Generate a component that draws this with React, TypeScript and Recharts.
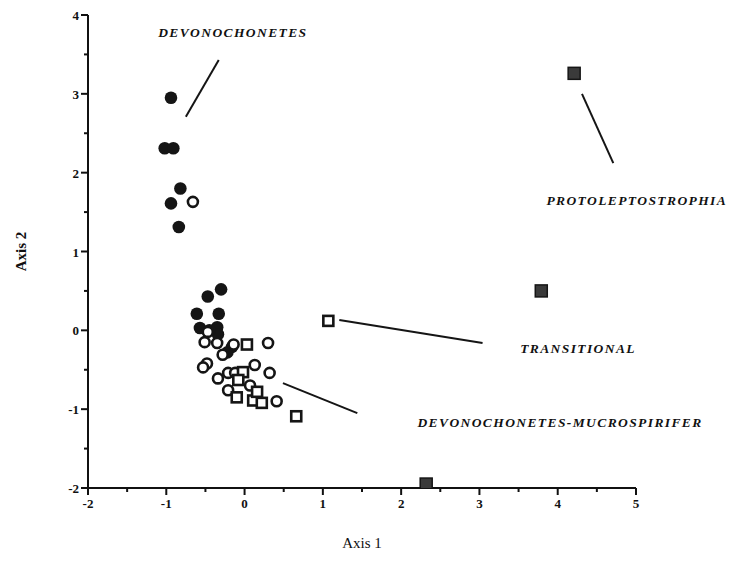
import { ScatterChart, Scatter, XAxis, YAxis, ReferenceLine, ReferenceDot } from 'recharts';

// sample scores
const devonochonetes = [
  { x: -0.94, y: 2.95 }, { x: -1.02, y: 2.31 }, { x: -0.91, y: 2.31 },
  { x: -0.82, y: 1.8 }, { x: -0.94, y: 1.61 }, { x: -0.84, y: 1.31 },
  { x: -0.3, y: 0.52 }, { x: -0.47, y: 0.43 }, { x: -0.61, y: 0.21 },
  { x: -0.33, y: 0.21 }, { x: -0.57, y: 0.03 }, { x: -0.35, y: 0.04 },
  { x: -0.34, y: -0.05 }, { x: -0.16, y: -0.21 }, { x: -0.22, y: -0.28 },
  { x: -0.45, y: 0.0 },
];

const mucrospiriferCircles = [
  { x: -0.66, y: 1.63 }, { x: -0.47, y: -0.02 }, { x: -0.51, y: -0.15 },
  { x: -0.35, y: -0.16 }, { x: -0.28, y: -0.31 }, { x: -0.14, y: -0.18 },
  { x: 0.3, y: -0.16 }, { x: -0.48, y: -0.42 }, { x: -0.53, y: -0.47 },
  { x: -0.34, y: -0.61 }, { x: -0.21, y: -0.54 }, { x: -0.12, y: -0.54 },
  { x: 0.13, y: -0.44 }, { x: 0.32, y: -0.54 }, { x: -0.21, y: -0.76 },
  { x: 0.07, y: -0.7 }, { x: 0.41, y: -0.9 },
];

const transitionalSquares = [
  { x: 0.03, y: -0.18 }, { x: -0.02, y: -0.53 }, { x: -0.08, y: -0.63 },
  { x: -0.1, y: -0.85 }, { x: 0.11, y: -0.89 }, { x: 0.22, y: -0.92 },
  { x: 0.16, y: -0.78 }, { x: 0.66, y: -1.09 }, { x: 1.07, y: 0.12 },
];

const protoleptostrophia = [
  { x: 4.21, y: 3.26 }, { x: 3.79, y: 0.5 }, { x: 2.32, y: -1.95 },
];

const xTicks = [-2, -1.5, -1, -0.5, 0, 0.5, 1, 1.5, 2, 2.5, 3, 3.5, 4, 4.5, 5];
const yTicks = [-2, -1.5, -1, -0.5, 0, 0.5, 1, 1.5, 2, 2.5, 3, 3.5, 4];

// annotation pointer lines and their labels (data units)
const pointers = [
  { x1: -0.33, y1: 3.43, x2: -0.75, y2: 2.71 },
  { x1: 4.31, y1: 3.0, x2: 4.71, y2: 2.12 },
  { x1: 1.21, y1: 0.13, x2: 3.04, y2: -0.16 },
  { x1: 0.49, y1: -0.67, x2: 1.44, y2: -1.05 },
];

const groupLabels = [
  { x: -0.15, y: 3.78, text: 'DEVONOCHONETES' },
  { x: 5.01, y: 1.65, text: 'PROTOLEPTOSTROPHIA' },
  { x: 4.26, y: -0.23, text: 'TRANSITIONAL' },
  { x: 4.03, y: -1.16, text: 'DEVONOCHONETES-MUCROSPIRIFER' },
];

const serif = '"Liberation Serif", "DejaVu Serif", serif';

const YTick = (props: any) => {
  const { x, y, payload } = props;
  const major = Number.isInteger(payload.value);
  return (
    <g>
      <line x1={x} x2={x - (major ? 7 : 4)} y1={y} y2={y} stroke="#111" strokeWidth={2} />
      {major && (
        <text x={x - 9} y={y + 5} textAnchor="end" fontSize={13} fontWeight="bold" fontFamily={serif} fill="#111">
          {payload.value}
        </text>
      )}
    </g>
  );
};

const XTick = (props: any) => {
  const { x, y, payload } = props;
  const major = Number.isInteger(payload.value);
  return (
    <g>
      <line x1={x} x2={x} y1={y} y2={y + (major ? 7 : 4)} stroke="#111" strokeWidth={2} />
      {major && (
        <text x={x} y={y + 20} textAnchor="middle" fontSize={13} fontWeight="bold" fontFamily={serif} fill="#111">
          {payload.value}
        </text>
      )}
    </g>
  );
};

const filledCircle = (p: any) => <circle cx={p.cx} cy={p.cy} r={6.3} fill="#151515" />;
const openCircle = (p: any) => (
  <circle cx={p.cx} cy={p.cy} r={5} fill="#fff" stroke="#151515" strokeWidth={2.6} />
);
const openSquare = (p: any) => (
  <rect x={p.cx - 5} y={p.cy - 5} width={10} height={10} fill="#fff" stroke="#151515" strokeWidth={2.6} />
);
const filledSquare = (p: any) => (
  <rect x={p.cx - 6} y={p.cy - 6} width={12} height={12} fill="#3a3a3a" stroke="#151515" strokeWidth={1.5} />
);

export default function App() {
  return (
    <div style={{ position: 'absolute', left: 0, top: 0, background: '#fff' }}>
      <ScatterChart width={738} height={567} margin={{ top: 15, right: 102, bottom: 49, left: 10 }}>
        <XAxis
          type="number"
          dataKey="x"
          domain={[-2, 5]}
          ticks={xTicks}
          allowDataOverflow
          interval={0}
          tickSize={0}
          tickMargin={0}
          tick={<XTick />}
          tickLine={false}
          height={30}
          axisLine={{ stroke: '#111', strokeWidth: 2 }}
          label={{ value: 'Axis 1', position: 'bottom', offset: 19, style: { fontSize: 15, fontFamily: serif, fill: '#111' } }}
        />
        <YAxis
          type="number"
          dataKey="y"
          domain={[-2, 4]}
          ticks={yTicks}
          allowDataOverflow
          interval={0}
          tickSize={0}
          tickMargin={0}
          tick={<YTick />}
          tickLine={false}
          width={78}
          axisLine={{ stroke: '#111', strokeWidth: 2 }}
          label={{
            value: 'Axis 2',
            angle: -90,
            position: 'insideLeft',
            offset: 11,
            style: { textAnchor: 'middle', fontSize: 15, fontWeight: 'bold', fontFamily: serif, fill: '#111' },
          }}
        />
        {pointers.map((s, i) => (
          <ReferenceLine
            key={i}
            segment={[{ x: s.x1, y: s.y1 }, { x: s.x2, y: s.y2 }]}
            stroke="#151515"
            strokeWidth={2}
            ifOverflow="visible"
          />
        ))}
        {groupLabels.map((l, i) => (
          <ReferenceDot
            key={i}
            x={l.x}
            y={l.y}
            ifOverflow="visible"
            shape={(p: any) => (
              <text
                x={p.cx}
                y={p.cy + 5}
                textAnchor="middle"
                fontSize={13.5}
                fontStyle="italic"
                fontWeight="bold"
                letterSpacing={1.4}
                fontFamily={serif}
                fill="#111"
              >
                {l.text}
              </text>
            )}
          />
        ))}
        <Scatter data={devonochonetes} shape={filledCircle} isAnimationActive={false} />
        <Scatter data={mucrospiriferCircles} shape={openCircle} isAnimationActive={false} />
        <Scatter data={transitionalSquares} shape={openSquare} isAnimationActive={false} />
        <Scatter data={protoleptostrophia} shape={filledSquare} isAnimationActive={false} />
      </ScatterChart>
    </div>
  );
}
